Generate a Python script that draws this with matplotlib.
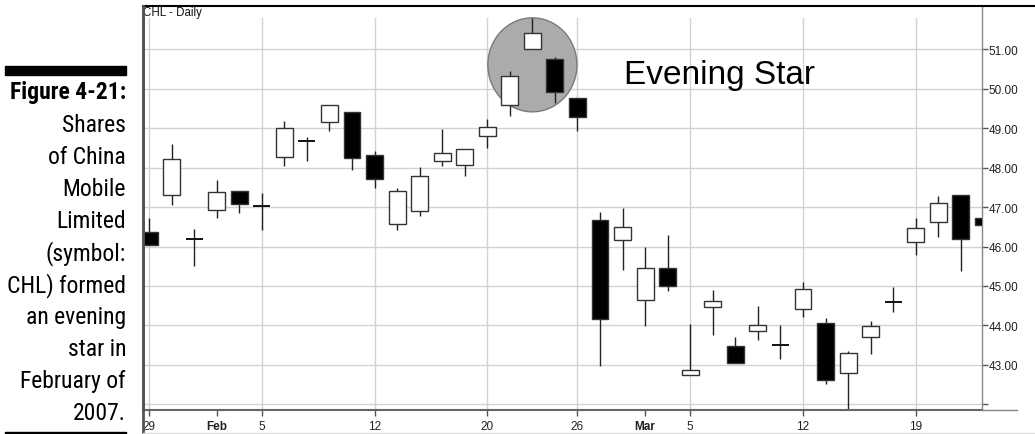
import matplotlib
matplotlib.use('Agg')
import matplotlib.pyplot as plt
from matplotlib import font_manager
from matplotlib.lines import Line2D
from matplotlib.patches import Rectangle, Ellipse

# ---- data ----
dates = ['Jan 29', 'Jan 30', 'Jan 31', 'Feb 1', 'Feb 2', 'Feb 5', 'Feb 6', 'Feb 7',
         'Feb 8', 'Feb 9', 'Feb 12', 'Feb 13', 'Feb 14', 'Feb 15', 'Feb 16', 'Feb 20',
         'Feb 21', 'Feb 22', 'Feb 23', 'Feb 26', 'Feb 27', 'Feb 28', 'Mar 1', 'Mar 2',
         'Mar 5', 'Mar 6', 'Mar 7', 'Mar 8', 'Mar 9', 'Mar 12', 'Mar 13', 'Mar 14',
         'Mar 15', 'Mar 16', 'Mar 19', 'Mar 20', 'Mar 21', 'Mar 22']
opens = [46.37, 47.30, 46.19, 46.92, 47.41, 47.03, 48.27, 48.67, 49.15, 49.41,
         48.32, 46.57, 46.90, 48.16, 48.06, 48.80, 49.58, 51.00, 50.75, 49.76,
         46.67, 46.16, 44.65, 45.46, 42.75, 44.47, 43.48, 43.86, 43.51, 44.42,
         44.06, 42.80, 43.71, 44.59, 46.11, 46.62, 47.30, 46.72]
highs = [46.72, 48.59, 46.44, 47.68, 47.41, 47.35, 49.18, 48.77, 49.58, 49.41,
         48.42, 47.48, 48.01, 48.97, 48.47, 49.23, 50.44, 51.78, 50.80, 49.76,
         46.87, 46.97, 45.99, 46.29, 44.04, 44.90, 43.71, 44.49, 44.01, 45.10,
         44.19, 43.35, 44.11, 44.97, 46.72, 47.28, 47.30, 46.72]
lows = [46.04, 47.05, 45.51, 46.72, 46.85, 46.42, 48.04, 48.16, 48.92, 47.94,
        47.48, 46.42, 46.77, 48.04, 47.78, 48.49, 49.30, 51.00, 49.63, 48.92,
        42.97, 45.41, 43.99, 44.87, 42.75, 43.76, 43.05, 43.63, 43.15, 44.22,
        42.52, 41.78, 43.28, 44.34, 45.78, 46.24, 45.38, 46.54]
closes = [46.04, 48.22, 46.19, 47.38, 47.08, 47.03, 49.00, 48.67, 49.58, 48.24,
          47.71, 47.41, 47.78, 48.37, 48.47, 49.03, 50.32, 51.41, 49.91, 49.28,
          44.16, 46.49, 45.46, 45.00, 42.87, 44.62, 43.05, 44.01, 43.51, 44.92,
          42.62, 43.30, 43.99, 44.59, 46.47, 47.10, 46.19, 46.54]

x_tick_idx = [0, 3, 5, 10, 15, 19, 22, 24, 29, 34]
x_tick_labels = ['29', 'Feb', '5', '12', '20', '26', 'Mar', '5', '12', '19']
month_labels = ['Feb', 'Mar']
grid_idx = [0, 5, 10, 15, 19, 24, 29, 34]
price_ticks = [42, 43, 44, 45, 46, 47, 48, 49, 50, 51]
price_labels = [''] + ['%.2f' % v for v in price_ticks[1:]]

star_center = (17, 50.6)   # highlighted evening-star region
chart_title = 'CHL - Daily'
annotation = 'Evening Star'
caption_head = 'Figure 4-21:'
caption_lines = ['Shares', 'of China', 'Mobile', 'Limited', '(symbol:',
                 'CHL) formed', 'an evening', 'star in', 'February of', '2007.']

# ---- pick a narrow font for the caption if one is installed ----
ttf = font_manager.fontManager.ttflist
names = {f.name for f in ttf}
cap_family = None
cap_stretch = 'normal'
for cand in ['Liberation Sans Narrow', 'Roboto Condensed', 'DejaVu Sans Condensed',
             'Open Sans Condensed', 'Noto Sans Condensed', 'Arial Narrow']:
    if cand in names:
        cap_family = cand
        break
if cap_family is None:
    for f in ttf:
        if str(f.stretch) in ('condensed', 'semi-condensed', 'extra-condensed') or \
                (isinstance(f.stretch, int) and f.stretch < 500):
            cap_family = f.name
            cap_stretch = 'condensed'
            break
if cap_family is None:
    cap_family = 'Liberation Sans'
cap_font = [cap_family, 'Liberation Sans', 'DejaVu Sans']

# ---- figure ----
W, H = 1035, 435
fig = plt.figure(figsize=(W / 100, H / 100), dpi=100)
fig.patch.set_facecolor('white')
ax = fig.add_axes([143 / W, (H - 411) / H, (982 - 143) / W, (411 - 7) / H])
ax.set_xlim(-0.27, 36.94)
ax.set_ylim(41.86, 52.09)

grid_c = '#d2d2d2'
for p in price_ticks:
    ax.axhline(p, color=grid_c, lw=1, zorder=0)
for g in grid_idx:
    ax.axvline(g, ymax=0.97, color=grid_c, lw=1, zorder=0)

ax.add_patch(Ellipse(star_center, 3.95, 2.38, facecolor='#ababab',
                     edgecolor='#7a7a7a', lw=1, zorder=1))

bw = 0.75
for i, (o, h, l, c) in enumerate(zip(opens, highs, lows, closes)):
    ax.vlines(i, l, h, color='#222222', lw=1, zorder=2)
    if abs(c - o) < 0.01:
        ax.hlines(o, i - bw / 2, i + bw / 2, color='#111111', lw=1.4, zorder=3)
    else:
        fill = 'white' if c > o else 'black'
        ax.bar(i, abs(c - o), bottom=min(o, c), width=bw, color=fill,
               edgecolor='#333333', lw=1, zorder=3)

# axes styling
ax.spines['top'].set_visible(False)
ax.spines['left'].set_color('#555555')
ax.spines['left'].set_linewidth(2)
ax.spines['right'].set_color('#888888')
ax.spines['right'].set_linewidth(1)
ax.spines['bottom'].set_color('#666666')
ax.spines['bottom'].set_linewidth(1.5)

ax.yaxis.tick_right()
ax.set_yticks(price_ticks)
ax.set_yticklabels(price_labels)
ax.tick_params(axis='y', length=4, width=1, color='#555555', pad=0.5,
               labelsize=8.5, labelcolor='#222222')
ax.set_xticks(x_tick_idx)
ax.set_xticklabels(x_tick_labels)
ax.tick_params(axis='x', length=4, width=1, color='#555555', pad=3,
               labelsize=8.5, labelcolor='#222222')
for t in ax.get_xticklabels() + ax.get_yticklabels():
    t.set_family(['Liberation Sans', 'DejaVu Sans'])
for t in ax.get_xticklabels():
    if t.get_text() in month_labels:
        t.set_fontweight('bold')

ax.text(0.0, 0.999, chart_title, transform=ax.transAxes, ha='left', va='top',
        fontsize=8.3, family=['Liberation Sans', 'DejaVu Sans'], color='#111111')
ax.text(0.573, 0.809, annotation, transform=ax.transAxes, ha='left',
        va='baseline', fontsize=24, family=['Liberation Sans', 'DejaVu Sans'],
        color='black')

# frame lines outside the axes
fig.add_artist(Line2D([143 / W, 1], [1 - 7 / H] * 2, color='black', lw=1.5))
fig.add_artist(Line2D([142.5 / W] * 2, [1 - 7 / H, 1 - 433 / H], color='#555555', lw=2))
fig.add_artist(Line2D([982 / W, 1017 / W], [1 - 411 / H] * 2, color='#888888', lw=1))
fig.add_artist(Line2D([143 / W, 1], [1 - 433.5 / H] * 2, color='#dddddd', lw=1))

# caption
fig.patches.append(Rectangle((5 / W, 1 - 76 / H), 121 / W, 9 / H,
                             transform=fig.transFigure, color='black'))
fig.patches.append(Rectangle((5 / W, 0), 121 / W, 2.5 / H,
                             transform=fig.transFigure, color='black'))

base_size = 17.0
texts = []
t0 = fig.text(126 / W, 1 - 93 / H, caption_head, ha='right', va='center',
              fontsize=base_size, fontweight='bold', family=cap_font,
              fontstretch=cap_stretch, color='black')
texts.append(t0)
for k, line in enumerate(caption_lines):
    t = fig.text(126 / W, 1 - (125.5 + 32 * k) / H, line, ha='right', va='center',
                 fontsize=base_size, family=cap_font, fontstretch=cap_stretch,
                 color='black')
    texts.append(t)

# shrink caption uniformly if the installed font is too wide for the 121 px column
renderer = fig.canvas.get_renderer()
widest = max(t.get_window_extent(renderer).width for t in texts)
if widest > 121:
    new_size = base_size * 121 / widest
    for t in texts:
        t.set_fontsize(new_size)

fig.savefig('out.png', dpi=100)
